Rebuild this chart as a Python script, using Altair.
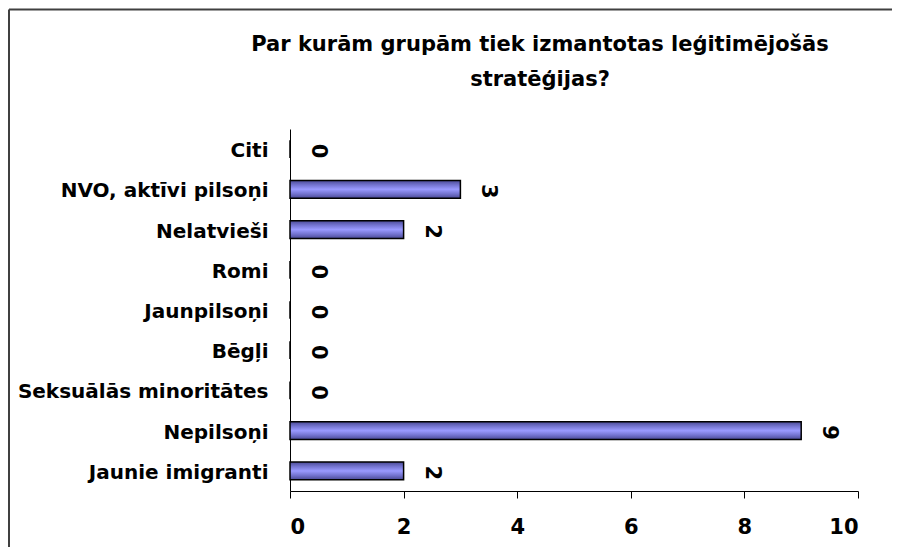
import altair as alt
import pandas as pd

# ---- data ----
categories = [
    "Citi",
    "NVO, aktīvi pilsoņi",
    "Nelatvieši",
    "Romi",
    "Jaunpilsoņi",
    "Bēgļi",
    "Seksuālās minoritātes",
    "Nepilsoņi",
    "Jaunie imigranti",
]
values = [0, 3, 2, 0, 0, 0, 0, 9, 2]
x_ticks = [0, 2, 4, 6, 8, 10]
title_lines = ["Par kurām grupām tiek izmantotas leģitimējošās", "stratēģijas?"]

df = pd.DataFrame({"grupa": categories, "skaits": values})

FONT = "DejaVu Sans"

gradient = alt.LinearGradient(
    gradient="linear", x1=0, x2=0, y1=0, y2=1,
    stops=[
        alt.GradientStop(offset=0, color="#4a4a96"),
        alt.GradientStop(offset=0.25, color="#7474d0"),
        alt.GradientStop(offset=0.5, color="#9a9aff"),
        alt.GradientStop(offset=0.75, color="#7474d0"),
        alt.GradientStop(offset=1, color="#4a4a96"),
    ],
)

y_enc = alt.Y(
    "grupa:N", sort=categories,
    scale=alt.Scale(paddingInner=0.56, paddingOuter=0.28),
    axis=alt.Axis(title=None, ticks=False, labelPadding=22, labelFontSize=20,
                  labelFontWeight="bold", labelColor="black", domainColor="black",
                  labelFont=FONT, labelLimit=400, labelOffset=2),
)
x_enc = alt.X(
    "skaits:Q", scale=alt.Scale(domain=[0, 10], nice=False),
    axis=alt.Axis(title=None, values=x_ticks, grid=False, tickSize=7, tickColor="black",
                  domainColor="black", labelPadding=18, labelFontSize=21,
                  labelFontWeight="bold", labelColor="black", labelFont=FONT, format="d"),
)

# outer frame of the chart area (top and left edges; the others lie off the page)
frame_top = alt.Chart(alt.Data(values=[{}])).mark_rule(
    stroke="#404040", strokeWidth=2
).encode(x=alt.value(-281), x2=alt.value(700), y=alt.value(-119.6))
frame_left = alt.Chart(alt.Data(values=[{}])).mark_rule(
    stroke="#404040", strokeWidth=2
).encode(x=alt.value(-281), y=alt.value(-119.6), y2=alt.value(500))

bars = alt.Chart(df).mark_bar(fill=gradient, stroke="black", strokeWidth=1.5).encode(
    x=x_enc, y=y_enc
)

labels = alt.Chart(df).mark_text(
    angle=90, align="center", baseline="middle", dy=-28, dx=2,
    fontSize=21, fontWeight="bold", font=FONT, color="black"
).encode(x="skaits:Q", y=alt.Y("grupa:N", sort=categories), text="skaits:Q")

chart = alt.layer(frame_top, frame_left, bars, labels).properties(
    width=568, height=362,
    padding={"left": 282, "top": 121, "right": 34, "bottom": 56},
    autosize=alt.AutoSizeParams(type="none"),
    title=alt.TitleParams(text=title_lines, font=FONT, fontSize=21, fontWeight="bold",
                          color="black", anchor="middle", frame="group", dx=-34, dy=86,
                          lineHeight=35),
).configure_view(strokeWidth=0)

chart.save("out.html", embed_options={"renderer": "svg", "actions": False})
